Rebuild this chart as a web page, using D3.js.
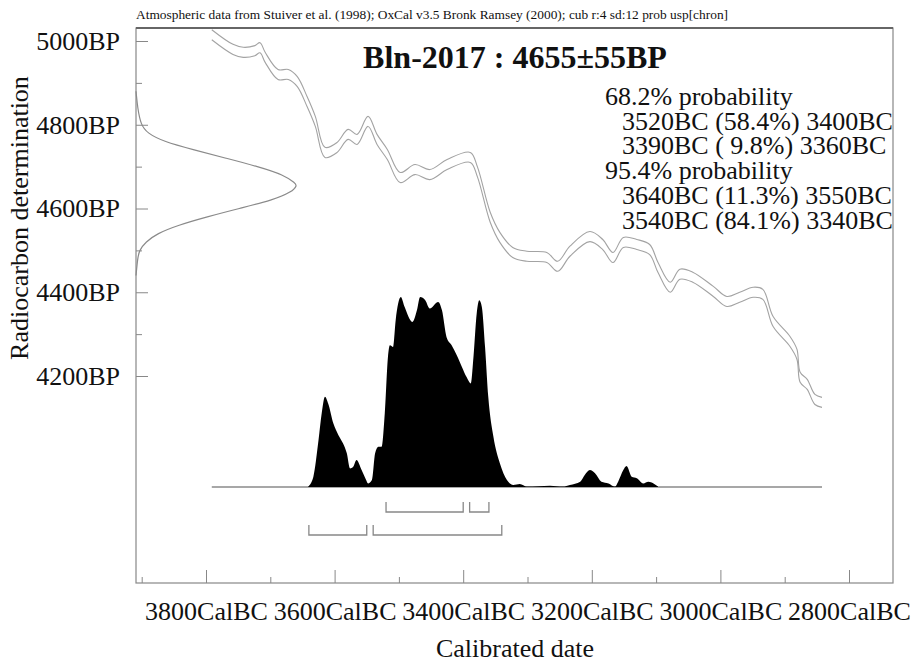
<!DOCTYPE html>
<html>
<head>
<meta charset="utf-8">
<script src="https://cdn.jsdelivr.net/npm/d3@7/dist/d3.min.js"></script>
<style>
  body { margin: 0; background: #fff; }
  svg { display: block; font-family: "Liberation Serif", "Times New Roman", serif; }
</style>
</head>
<body>
<div id="chart"></div>
<script>
// tick values
const xMajorTicks = [3800, 3600, 3400, 3200, 3000, 2800];
const xMinorTicks = [3900, 3700, 3500, 3300, 3100, 2900];
const yMajorTicks = [5000, 4800, 4600, 4400, 4200];
const yMinorTicks = [4900, 4700, 4500, 4300];

// calibration curve (centre, BP), +/- calErr
const calYears = [3791, 3758, 3742, 3724, 3716, 3708, 3688, 3672, 3658, 3643, 3630, 3615, 3596, 3579, 3565, 3548, 3534, 3518, 3498, 3475, 3452, 3425, 3389, 3378, 3358, 3343, 3323, 3301, 3270, 3253, 3234, 3203, 3183, 3167, 3151, 3130, 3110, 3097, 3078, 3063, 3043, 3011, 2990, 2970, 2949, 2934, 2918, 2892, 2881, 2876, 2865, 2853, 2842];
const calBP = [5015, 4980, 4973, 4977, 4984, 4961, 4920, 4920, 4903, 4856, 4808, 4734, 4746, 4777, 4765, 4808, 4765, 4729, 4674, 4693, 4681, 4705, 4722, 4688, 4579, 4531, 4495, 4486, 4483, 4462, 4498, 4533, 4514, 4483, 4519, 4514, 4502, 4459, 4412, 4443, 4436, 4402, 4378, 4388, 4400, 4395, 4330, 4283, 4252, 4197, 4180, 4144, 4137];
const calErr = 12;

// radiocarbon measurement distribution (relative)
const c14BP = [4880, 4840, 4800, 4780, 4760, 4740, 4720, 4700, 4680, 4660, 4655, 4640, 4620, 4600, 4580, 4560, 4540, 4520, 4500, 4480, 4440];
const c14Prob = [0.0, 0.01, 0.03, 0.07, 0.17, 0.36, 0.56, 0.76, 0.92, 0.99, 1.0, 0.97, 0.85, 0.64, 0.44, 0.26, 0.13, 0.06, 0.02, 0.01, 0.0];

// calibrated distribution (relative, max = 100)
const probYears = [3641, 3633, 3625, 3620, 3615, 3610, 3602, 3594, 3587, 3581, 3576, 3571, 3566, 3558, 3551, 3548, 3542, 3537, 3532, 3527, 3522, 3517, 3514, 3509, 3505, 3497, 3491, 3479, 3472, 3467, 3459, 3452, 3439, 3433, 3426, 3418, 3410, 3402, 3395, 3388, 3384, 3379, 3375, 3371, 3366, 3361, 3353, 3343, 3332, 3322, 3312, 3301, 3265, 3245, 3234, 3218, 3211, 3203, 3195, 3185, 3174, 3164, 3159, 3151, 3146, 3138, 3130, 3120, 3112, 3104, 3097];
const probValues = [0.2, 5.4, 24.7, 38.9, 47.5, 44, 33.5, 27.3, 23, 17.7, 9.8, 10.7, 14.2, 8.9, 3.7, 1.9, 3.7, 17.7, 21.2, 21.2, 38.7, 68.5, 74.6, 73.7, 87.8, 100, 94.7, 86.9, 93, 100, 98.3, 93.9, 97.4, 93, 79, 74.6, 69.4, 63.2, 58, 54.5, 68.5, 91.3, 98.3, 94.7, 73.7, 47.5, 26.4, 12.5, 3.7, 1.1, 1.6, 0.2, 0.7, 0.2, 1.1, 2.8, 6.3, 8.9, 7.2, 2.8, 1.9, 0.2, 2.8, 8.9, 11, 5.4, 4.6, 1.9, 2.8, 1.9, 0.2];

// ranges
const ranges68 = [[3520, 3400], [3390, 3360]];
const ranges95 = [[3640, 3550], [3540, 3340]];

const summaryLines = [
  { text: '68.2% probability', indent: 0 },
  { text: '3520BC (58.4%) 3400BC', indent: 1 },
  { text: '3390BC ( 9.8%) 3360BC', indent: 1 },
  { text: '95.4% probability', indent: 0 },
  { text: '3640BC (11.3%) 3550BC', indent: 1 },
  { text: '3540BC (84.1%) 3340BC', indent: 1 }
];

const width = 912;
const height = 662;
const frame = { left: 136, right: 893, top: 28, bottom: 583 };

const x = d3.scaleLinear().domain([3800, 2800]).range([206, 849]);
const y = d3.scaleLinear().domain([5000, 4200]).range([41, 376]);
const probY = d3.scaleLinear().domain([0, 100]).range([487, 297]);
const densX = d3.scaleLinear().domain([0, 1]).range([frame.left, 297]);

const svg = d3.select('#chart')
  .append('svg')
  .attr('width', width)
  .attr('height', height);

svg.append('rect').attr('width', width).attr('height', height).attr('fill', '#fff');

// header
svg.append('text')
  .attr('x', frame.left)
  .attr('y', 19)
  .attr('font-size', 13.4)
  .attr('fill', '#111')
  .text('Atmospheric data from Stuiver et al. (1998); OxCal v3.5 Bronk Ramsey (2000); cub r:4 sd:12 prob usp[chron]');

// frame
svg.append('rect')
  .attr('x', frame.left)
  .attr('y', frame.top)
  .attr('width', frame.right - frame.left)
  .attr('height', frame.bottom - frame.top)
  .attr('fill', 'none')
  .attr('stroke', '#888')
  .attr('stroke-width', 1.2);

svg.append('line')
  .attr('x1', frame.left).attr('x2', frame.right)
  .attr('y1', frame.top).attr('y2', frame.top)
  .attr('stroke', '#666').attr('stroke-width', 2);

// x axis (ticks point inwards)
svg.append('g')
  .attr('transform', `translate(0, ${frame.bottom})`)
  .call(d3.axisBottom(x).tickValues(xMajorTicks).tickSize(-13).tickPadding(19)
    .tickFormat(d => d + 'CalBC'));
svg.append('g')
  .attr('transform', `translate(0, ${frame.bottom})`)
  .call(d3.axisBottom(x).tickValues(xMinorTicks).tickSize(-6).tickFormat(''));

// y axis
svg.append('g')
  .attr('transform', `translate(${frame.left}, 0)`)
  .call(d3.axisLeft(y).tickValues(yMajorTicks).tickSize(-12).tickPadding(16)
    .tickFormat(d => d + 'BP'));
svg.append('g')
  .attr('transform', `translate(${frame.left}, 0)`)
  .call(d3.axisLeft(y).tickValues(yMinorTicks).tickSize(-6).tickFormat(''));

svg.selectAll('.domain').remove();
svg.selectAll('.tick line').attr('stroke', '#888');
svg.selectAll('.tick text')
  .attr('font-family', '"Liberation Serif", "Times New Roman", serif')
  .attr('font-size', 26)
  .attr('fill', '#111');

// axis titles
svg.append('text')
  .attr('x', 515)
  .attr('y', 657)
  .attr('text-anchor', 'middle')
  .attr('font-size', 26)
  .attr('fill', '#111')
  .text('Calibrated date');

svg.append('text')
  .attr('transform', 'translate(28, 218) rotate(-90)')
  .attr('text-anchor', 'middle')
  .attr('font-size', 26)
  .attr('fill', '#111')
  .text('Radiocarbon determination');

// radiocarbon measurement curve on the y axis
svg.append('path')
  .datum(c14BP.map((bp, i) => [bp, c14Prob[i]]))
  .attr('fill', 'none')
  .attr('stroke', '#8a8a8a')
  .attr('stroke-width', 1.2)
  .attr('d', d3.line().x(d => densX(d[1])).y(d => y(d[0])).curve(d3.curveBasis));

// calibration curve (two lines)
const calLine = (sign) => d3.line()
  .x(d => x(d[0]))
  .y(d => y(d[1] + sign * calErr))
  .curve(d3.curveCatmullRom);
const calData = calYears.map((yr, i) => [yr, calBP[i]]);
[1, -1].forEach(sign => {
  svg.append('path')
    .datum(calData)
    .attr('fill', 'none')
    .attr('stroke', '#a3a3a3')
    .attr('stroke-width', 1.1)
    .attr('d', calLine(sign));
});

// baseline of calibrated distribution
svg.append('line')
  .attr('x1', x(calYears[0]))
  .attr('x2', x(calYears[calYears.length - 1]))
  .attr('y1', probY(0))
  .attr('y2', probY(0))
  .attr('stroke', '#8a8a8a')
  .attr('stroke-width', 1.5);

// calibrated distribution
svg.append('path')
  .datum(probYears.map((yr, i) => [yr, probValues[i]]))
  .attr('fill', '#000')
  .attr('d', d3.area()
    .x(d => x(d[0]))
    .y0(probY(0))
    .y1(d => probY(d[1]))
    .curve(d3.curveMonotoneX));

// range brackets
function brackets(ranges, yLine) {
  svg.selectAll(null)
    .data(ranges)
    .enter()
    .append('path')
    .attr('fill', 'none')
    .attr('stroke', '#888')
    .attr('stroke-width', 1.3)
    .attr('d', d => `M${x(d[0])},${yLine - 10}V${yLine}H${x(d[1])}V${yLine - 10}`);
}
brackets(ranges68, 512);
brackets(ranges95, 535);

// title
svg.append('text')
  .attr('x', 515)
  .attr('y', 68)
  .attr('text-anchor', 'middle')
  .attr('font-size', 32)
  .attr('font-weight', 'bold')
  .attr('fill', '#111')
  .text('Bln-2017 : 4655\u00B155BP');

// summary
svg.append('g')
  .selectAll('text')
  .data(summaryLines)
  .enter()
  .append('text')
  .attr('x', d => 605 + d.indent * 17)
  .attr('y', (d, i) => 105 + i * 24.7)
  .attr('font-size', 26)
  .attr('fill', '#111')
  .text(d => d.text);
</script>
</body>
</html>
